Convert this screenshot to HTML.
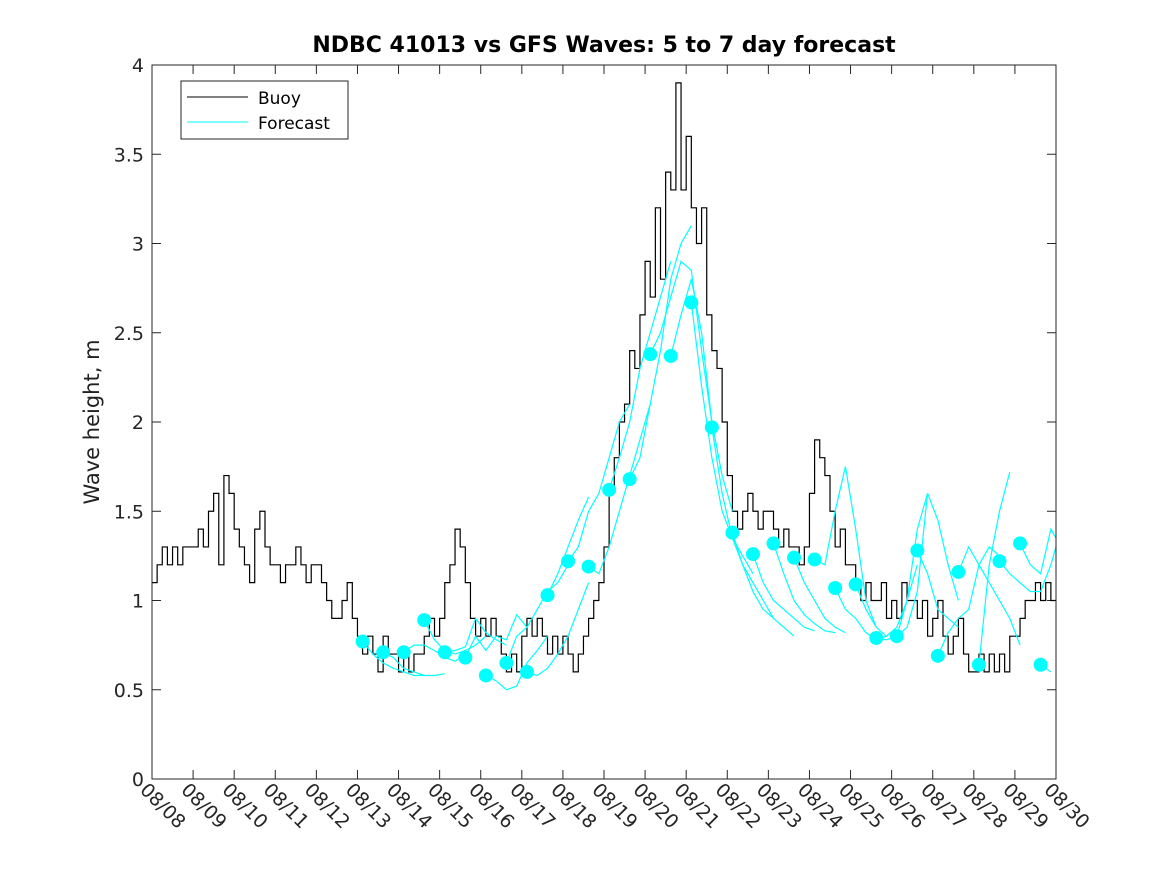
<!DOCTYPE html>
<html><head><meta charset="utf-8"><style>
body{margin:0;background:#fff}
svg{display:block;font-family:"DejaVu Sans","Liberation Sans",sans-serif}
</style></head><body>
<svg id="chart" width="1167" height="875">
<rect width="1167" height="875" fill="#fff"/>
<text x="604" y="52" text-anchor="middle" font-size="22" font-weight="bold">NDBC 41013 vs GFS Waves: 5 to 7 day forecast</text>
<text transform="translate(99,422) rotate(-90)" text-anchor="middle" font-size="21" fill="#222">Wave height, m</text>
<g id="axes"></g>
<g id="series" clip-path="url(#clip)"></g>
<defs><clipPath id="clip"><rect x="152" y="65" width="904" height="714"/></clipPath></defs>
<g id="dots"></g>
<rect x="152" y="65" width="904" height="714" fill="none" stroke="#262626" stroke-width="1"/>
<g>
<rect x="181" y="81" width="167" height="58" fill="#fff" stroke="#262626"/>
<line x1="187" y1="97" x2="248" y2="97" stroke="#000"/>
<text x="258" y="104" font-size="17">Buoy</text>
<line x1="187" y1="122" x2="248" y2="122" stroke="#00ffff"/>
<text x="258" y="129" font-size="17">Forecast</text>
</g>
</svg>
<script>
const dateLabels=["08/08","08/09","08/10","08/11","08/12","08/13","08/14","08/15","08/16","08/17","08/18","08/19","08/20","08/21","08/22","08/23","08/24","08/25","08/26","08/27","08/28","08/29","08/30"];
const yTicks=[0,0.5,1,1.5,2,2.5,3,3.5,4];
const yTickLabels=["0","0.5","1","1.5","2","2.5","3","3.5","4"];
// buoy wave height, 3-hourly from 08/08 00:00
const buoy=[1.1,1.2,1.3,1.2,1.3,1.2,1.3,1.3,
1.3,1.4,1.3,1.5,1.6,1.2,1.7,1.6,
1.4,1.3,1.2,1.1,1.4,1.5,1.3,1.2,
1.2,1.1,1.2,1.2,1.3,1.2,1.1,1.2,
1.2,1.1,1.0,0.9,0.9,1.0,1.1,0.9,
0.8,0.7,0.8,0.7,0.6,0.8,0.7,0.7,
0.6,0.7,0.6,0.7,0.7,0.8,0.9,0.8,
0.9,1.1,1.2,1.4,1.3,1.1,0.9,0.8,
0.9,0.8,0.9,0.8,0.7,0.6,0.7,0.6,
0.8,0.9,0.8,0.9,0.8,0.7,0.8,0.7,
0.8,0.7,0.6,0.7,0.8,0.9,1.0,1.1,
1.3,1.6,1.8,2.0,2.1,2.4,2.3,2.6,
2.9,2.7,3.2,2.8,3.4,3.3,3.9,3.3,
3.6,3.2,3.0,3.2,2.6,2.4,2.3,2.0,
1.7,1.5,1.4,1.5,1.6,1.5,1.4,1.5,
1.5,1.4,1.3,1.4,1.3,1.3,1.2,1.3,
1.6,1.9,1.8,1.7,1.5,1.3,1.4,1.2,
1.2,1.1,1.0,1.1,1.0,1.0,1.1,0.9,
1.0,0.9,1.1,1.0,1.0,0.9,1.0,0.8,
0.9,1.0,0.8,0.7,0.8,0.9,0.7,0.6,
0.6,0.7,0.6,0.7,0.6,0.7,0.6,0.8,
0.8,0.9,1.0,1.0,1.1,1.0,1.1,1.0,
1.0];
// forecast start days (days after 08/08) and 6-hourly values
const fcStart=[5.125,5.625,6.125,6.625,7.125,7.625,8.125,8.625,9.125,9.625,10.125,10.625,11.125,11.625,12.125,12.625,13.125,13.625,14.125,14.625,15.125,15.625,16.125,16.625,17.125,17.625,18.125,18.625,19.125,19.625,20.125,20.625,21.125,21.625];
const fc1=[0.77,0.70,0.65,0.62,0.60,0.58,0.58];
const fc2=[0.71,0.68,0.62,0.60,0.58,0.58,0.59];
const fc3=[0.71,0.75,0.75,0.72,0.68,0.66,0.70];
const fc4=[0.89,0.78,0.72,0.70,0.72,0.75,0.80];
const fc5=[0.71,0.72,0.74,0.90,0.82,0.78,0.75];
const fc6=[0.68,0.80,0.72,0.80,0.78,0.92,0.85];
const fc7=[0.58,0.55,0.50,0.52,0.65,0.72,0.80];
const fc8=[0.65,0.80,0.85,0.95,1.05,1.10,1.20];
const fc9=[0.60,0.58,0.62,0.70,0.80,0.95,1.10];
const fc10=[1.03,1.15,1.30,1.45,1.58];
const fc11=[1.22,1.30,1.50,1.60,1.80,2.00,2.10];
const fc12=[1.19,1.15,1.30,1.50,1.70,1.90,2.10];
const fc13=[1.62,1.80,2.00,2.30,2.50,2.70,2.90];
const fc14=[1.68,1.80,2.10,2.40,2.80,3.00,3.10];
const fc15=[2.38,2.50,2.70,2.90,2.85,2.40,2.00];
const fc16=[2.37,2.60,2.80,2.50,2.00,1.70,1.50];
const fc17=[2.67,2.20,1.80,1.50,1.35,1.25,1.15];
const fc18=[1.97,1.60,1.35,1.20,1.10,1.00,0.90];
const fc19=[1.38,1.20,1.05,0.95,0.90,0.85,0.80];
const fc20=[1.26,1.10,1.00,0.95,0.90,0.85,0.83];
const fc21=[1.32,1.15,1.00,0.92,0.87,0.83,0.82];
const fc22=[1.24,1.10,1.00,0.90,0.85,0.82];
const fc23=[1.23,1.20,1.50,1.75,1.40,1.00,0.85];
const fc24=[1.07,0.95,0.90,0.82,0.78,0.80];
const fc25=[1.09,0.95,0.85,0.80,0.85,1.00,1.20];
const fc26=[0.79,0.78,0.80,1.00,1.40,1.60];
const fc27=[0.80,0.85,1.05,1.60,1.45,1.20,1.00];
const fc28=[1.28,1.15,0.95,0.90,0.85];
const fc29=[0.69,0.82,0.90,0.95,1.20,1.30,1.25];
const fc30=[1.16,1.30,1.20,1.10,1.00,0.90,0.75];
const fc31=[0.64,1.20,1.50,1.72];
const fc32=[1.22,1.15,1.10,1.05,1.05,1.20,1.40];
const fc33=[1.32,1.20,1.15,1.40,1.30];
const fc34=[0.64,0.60];
const fcVals=[fc1,fc2,fc3,fc4,fc5,fc6,fc7,fc8,fc9,fc10,fc11,fc12,fc13,fc14,fc15,fc16,fc17,fc18,fc19,fc20,fc21,fc22,fc23,fc24,fc25,fc26,fc27,fc28,fc29,fc30,fc31,fc32,fc33,fc34];

const NS="http://www.w3.org/2000/svg";
const X0=152,X1=1056,Y0=779,Y1=65;
const xs=d=>X0+(X1-X0)*d/22;
const ys=v=>Y0-(Y0-Y1)*v/4;
function mk(tag,attrs,parent){const e=document.createElementNS(NS,tag);for(const k in attrs)e.setAttribute(k,attrs[k]);parent.appendChild(e);return e;}
const axes=document.getElementById('axes');
yTicks.forEach((t,i)=>{
  const y=ys(t);
  const a=mk('line',{x1:X0,y1:y,x2:X0+9,y2:y,stroke:'#262626'},axes);
  
  
  const b=mk('line',{x1:X1-9,y1:y,x2:X1,y2:y,stroke:'#262626'},axes);
  
  
  const tx=mk('text',{x:X0-8,y:y+7,'text-anchor':'end','font-size':'19',fill:'#262626'},axes);
  tx.textContent=yTickLabels[i];
  
  
});
dateLabels.forEach((l,i)=>{
  const x=xs(i);
  const a=mk('line',{x1:x,y1:Y0,x2:x,y2:Y0-9,stroke:'#262626'},axes);
  
  
  const b=mk('line',{x1:x,y1:Y1,x2:x,y2:Y1+9,stroke:'#262626'},axes);
  
  
  const tx=mk('text',{transform:`translate(${x-13},${Y0+12}) rotate(45)`,'font-size':'19',fill:'#262626'},axes);
  tx.textContent=l;
  
  
});
const series=document.getElementById('series');
let p='';
buoy.forEach((v,i)=>{const x=xs(i*0.125),y=ys(v);if(i===0)p+=`M${x},${y}`;else p+=`H${x}V${y}`;});
const bl=mk('path',{d:p,fill:'none',stroke:'#000','stroke-width':1.2},series);


const dots=document.getElementById('dots');
fcVals.forEach((vals,k)=>{
  const s=fcStart[k];
  const d=vals.map((v,j)=>(j?'L':'M')+xs(s+0.25*j)+','+ys(v)).join('');
  const ln=mk('path',{d:d,fill:'none',stroke:'#00ffff','stroke-width':1.2},series);
  
  
  const c=mk('ellipse',{cx:xs(s),cy:ys(vals[0]),rx:7,ry:7,fill:'#00ffff'},dots);
  
  
});
</script>
</body></html>
